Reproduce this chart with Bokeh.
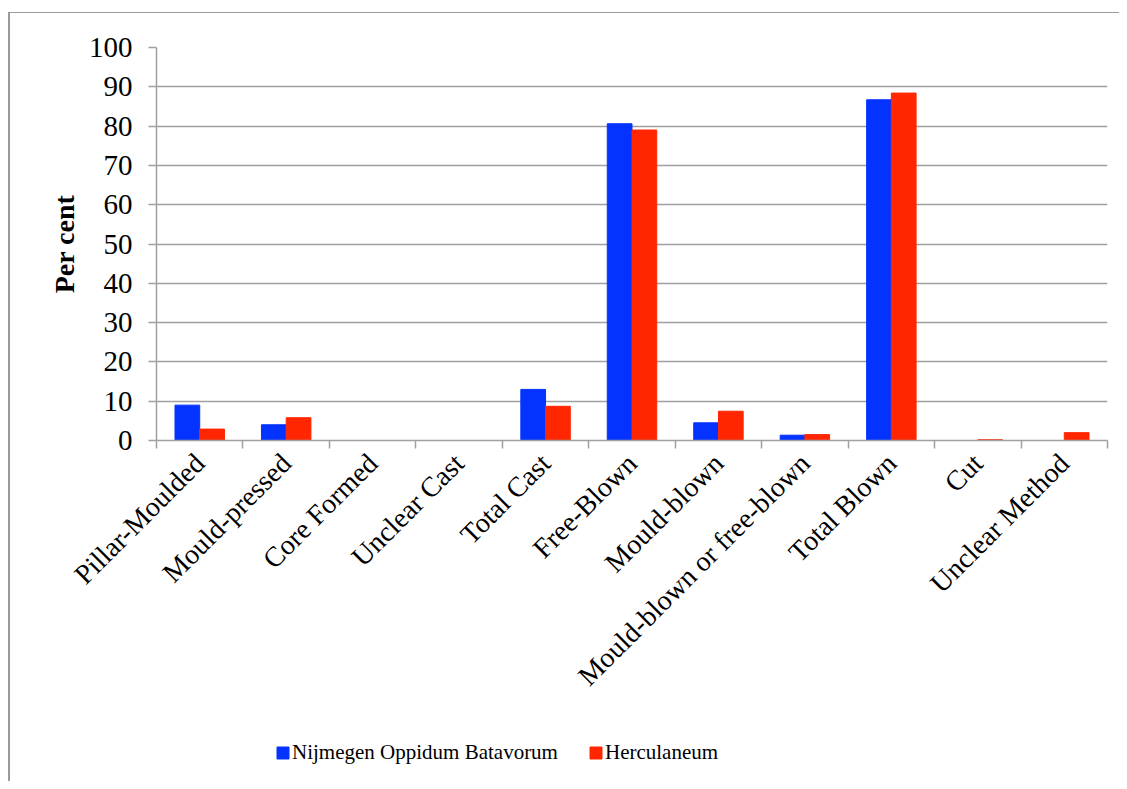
from math import pi
from bokeh.plotting import figure
from bokeh.models import (ColumnDataSource, Range1d, LinearAxis, FixedTicker, Legend, LegendItem)
from bokeh.transform import dodge
from bokeh.embed import file_html
from bokeh.resources import INLINE

categories = ["Pillar-Moulded", "Mould-pressed", "Core Formed", "Unclear Cast", "Total Cast",
              "Free-Blown", "Mould-blown", "Mould-blown or free-blown", "Total Blown", "Cut",
              "Unclear Method"]
nijmegen = [9.0, 4.0, 0, 0, 13.0, 80.6, 4.5, 1.35, 86.7, 0, 0]
herculaneum = [2.9, 5.8, 0, 0, 8.7, 79.0, 7.45, 1.5, 88.4, 0.2, 2.0]
y_ticks = [0, 10, 20, 30, 40, 50, 60, 70, 80, 90, 100]
series_names = ["Nijmegen Oppidum Batavorum", "Herculaneum"]

BLUE = "#0433FF"
RED = "#FF2600"
GRAY = "#a0a0a0"
FONT = "Liberation Serif"

n = len(categories)
centers = [i + 0.5 for i in range(n)]
bounds = list(range(n + 1))
src = ColumnDataSource(dict(cat=categories, pos=centers, nij=nijmegen, her=herculaneum))

p = figure(x_range=Range1d(0, n), y_range=Range1d(0, 100),
           x_axis_location=None, frame_width=951, frame_height=393,
           min_border_left=146, min_border_top=34, min_border_right=12, min_border_bottom=341,
           output_backend="svg", toolbar_location=None)
p.outline_line_color = None
p.background_fill_color = "white"
p.border_fill_color = "white"
p.xgrid.visible = False
p.styles = {"border-left": "2px solid #9a9a9a", "border-top": "1px solid #9a9a9a",
            "margin-top": "12px", "margin-left": "8px"}

r1 = p.vbar(x=dodge("pos", -0.143), top="nij", width=0.286, source=src,
            fill_color=BLUE, line_color=BLUE)
r2 = p.vbar(x=dodge("pos", 0.143), top="her", width=0.286, source=src,
            fill_color=RED, line_color=RED)

# y axis
ya = p.yaxis[0]
ya.ticker = FixedTicker(ticks=y_ticks)
ya.major_tick_out = 8
ya.major_tick_in = 0
ya.minor_tick_line_color = None
ya.axis_line_color = GRAY
ya.axis_line_width = 1.5
ya.major_tick_line_color = GRAY
ya.major_tick_line_width = 1.5
ya.major_label_text_font = FONT
ya.major_label_text_font_size = "29px"
ya.major_label_text_color = "black"
ya.major_label_standoff = 16
ya.axis_label = "Per cent"
ya.axis_label_text_font = FONT
ya.axis_label_text_font_size = "28px"
ya.axis_label_text_font_style = "bold"
ya.axis_label_text_color = "black"
ya.axis_label_standoff = 6

p.ygrid.grid_line_color = GRAY
p.ygrid.grid_line_width = 1.3
p.ygrid.ticker = FixedTicker(ticks=y_ticks)

# x axis: labels at category centres, tick marks at category boundaries
xa = LinearAxis(ticker=FixedTicker(ticks=centers, minor_ticks=bounds),
                major_label_overrides={c: name for c, name in zip(centers, categories)},
                axis_line_color=GRAY, axis_line_width=1.5,
                major_tick_line_color=None, major_tick_in=0, major_tick_out=8,
                minor_tick_line_color=GRAY, minor_tick_line_width=1.5,
                minor_tick_in=0, minor_tick_out=8,
                major_label_orientation=pi / 4, major_label_standoff=10,
                major_label_text_font=FONT, major_label_text_font_size="28px",
                major_label_text_color="black")
p.add_layout(xa, "below")

# legend strip, positioned over the blank area under the axis labels
lg = figure(width=1000, height=30, x_range=Range1d(1000, 1001), y_range=Range1d(1000, 1001),
            x_axis_location=None, y_axis_location=None, min_border=0,
            output_backend="svg", toolbar_location=None)
lg.outline_line_color = None
lg.grid.visible = False
lg.background_fill_alpha = 0
lg.border_fill_alpha = 0
lg.styles = {"position": "absolute", "top": "736px", "left": "10px"}
l1 = lg.vbar(x="pos", top="nij", width=0.286, source=src, fill_color=BLUE, line_color=BLUE)
l2 = lg.vbar(x="pos", top="her", width=0.286, source=src, fill_color=RED, line_color=RED)

legend = Legend(items=[LegendItem(label=series_names[0], renderers=[l1]),
                       LegendItem(label=series_names[1], renderers=[l2])],
                orientation="horizontal", location=(265, 1),
                glyph_width=15, glyph_height=15, label_standoff=2, spacing=30,
                padding=0, margin=0, border_line_color=None, background_fill_alpha=0,
                label_text_font=FONT, label_text_font_size="21px", label_text_color="black")
lg.add_layout(legend, "center")

open("out.html", "w").write(file_html([p, lg], INLINE))
